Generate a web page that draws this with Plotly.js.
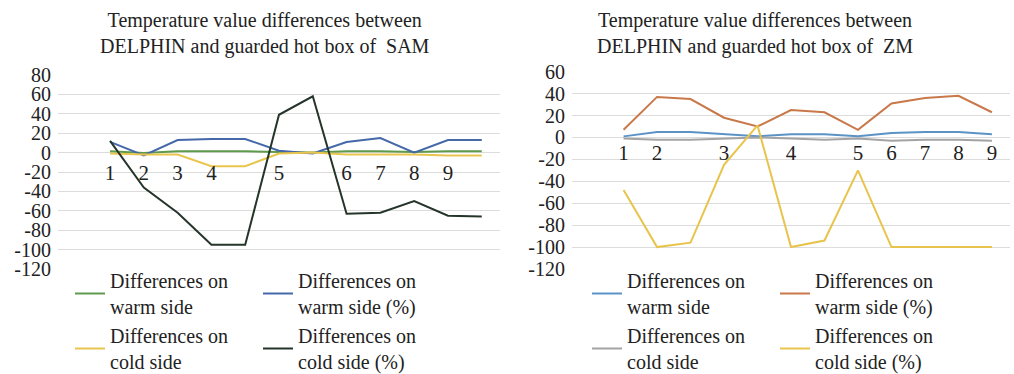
<!DOCTYPE html>
<html>
<head>
<meta charset="utf-8">
<script src="https://cdn.plot.ly/plotly-3.0.1.min.js"></script>
<style>html,body{margin:0;padding:0;background:#fff;}#chart{width:1014px;height:374px;}</style>
</head>
<body>
<div id="chart"></div>
<script>
// ---- Data: SAM (left panel) ----
var samCategories = ['1','2','3','4','','5','','6','7','8','9',''];
var samWarm       = [1.5, -0.5, 1.5, 1.5, 1.5, 0.5, 0, 1.5, 1.5, 0.5, 1.5, 1.5];
var samWarmPct    = [11, -3, 13, 14, 14, 2, -1, 11, 15, 0, 13, 13];
var samCold       = [-1, -2, -2, -14, -14, -1, 0, -2, -2, -2, -3, -3];
var samColdPct    = [12, -36, -62, -95, -95, 39, 58, -63, -62, -50, -65, -66];
var samYTicks     = [80, 60, 40, 20, 0, -20, -40, -60, -80, -100, -120];

// ---- Data: ZM (right panel) ----
var zmCategories  = ['1','2','','3','','4','','5','6','7','8','9'];
var zmWarm        = [1, 5, 5, 3, 1, 3, 3, 1, 4, 5, 5, 3];
var zmWarmPct     = [7, 37, 35, 18, 10, 25, 23, 7, 31, 36, 38, 23];
var zmCold        = [-1, -2, -2, -1, 0, -1, -2, -1, -3, -2, -2, -3];
var zmColdPct     = [-48, -100, -96, -25, 11, -100, -94, -30, -100, -100, -100, -100];
var zmYTicks      = [60, 40, 20, 0, -20, -40, -60, -80, -100, -120];

var seriesNames = ['Differences on<br>warm side', 'Differences on<br>warm side (%)',
                   'Differences on<br>cold side', 'Differences on<br>cold side (%)'];
var panelTitles = ['Temperature value differences between<br>DELPHIN and guarded hot box of  SAM',
                   'Temperature value differences between<br>DELPHIN and guarded hot box of  ZM'];

var FONT = 'Liberation Serif, Times New Roman, serif';
var W = 1014, H = 374;

function idx(a){ return a.map(function(_, i){ return i; }); }
function tv(cats){ var v=[]; cats.forEach(function(c,i){ if(c!=='') v.push(i); }); return v; }
function tt(cats){ return cats.filter(function(c){ return c!==''; }); }

var samX = idx(samCategories), zmX = idx(zmCategories);

function tr(x, y, name, color, xa, ya, lg){
  return {x:x, y:y, name:name, type:'scatter', mode:'lines', xaxis:xa, yaxis:ya,
          legend:lg, line:{color:color, width:2}, hoverinfo:'skip'};
}

var data = [
  tr(samX, samWarm,    seriesNames[0], '#5e9a4c', 'x',  'y',  'legend'),
  tr(samX, samWarmPct, seriesNames[1], '#4468a8', 'x',  'y',  'legend'),
  tr(samX, samCold,    seriesNames[2], '#e9c54e', 'x',  'y',  'legend2'),
  tr(samX, samColdPct, seriesNames[3], '#25352a', 'x',  'y',  'legend2'),
  tr(zmX,  zmWarm,     seriesNames[0], '#5b93c6', 'x2', 'y2', 'legend3'),
  tr(zmX,  zmWarmPct,  seriesNames[1], '#c9784a', 'x2', 'y2', 'legend3'),
  tr(zmX,  zmCold,     seriesNames[2], '#a3a3a3', 'x2', 'y2', 'legend4'),
  tr(zmX,  zmColdPct,  seriesNames[3], '#e8c44c', 'x2', 'y2', 'legend4')
];

var yDom1 = [1-269/H, 1-75/H], yR1 = [-120, 80];
var yDom2 = [1-269/H, 1-71.7/H], yR2 = [-120, 60];
function zeroPos(dom, r){ return dom[0] + (0 - r[0])/(r[1]-r[0])*(dom[1]-dom[0]); }

function xax(dom, cats, pos, standoff){
  return {domain:dom, range:[-1.54, 11.54], anchor:'free', position:pos,
    showgrid:false, zeroline:false, showline:false,
    tickmode:'array', tickvals:tv(cats), ticktext:tt(cats),
    ticks:'', ticklabelstandoff:standoff,
    tickfont:{family:FONT, size:21, color:'#222'}, fixedrange:true};
}
function yax(dom, r, anchor, ticks){
  return {domain:dom, range:r, anchor:anchor, tickmode:'array',
    tickvals:ticks, ticktext:ticks.map(function(v){ return String(v); }),
    showgrid:true, gridcolor:'#dcdcdc', gridwidth:1, zeroline:false, showline:false,
    ticks:'outside', ticklen:2, tickcolor:'rgba(0,0,0,0)',
    tickfont:{family:FONT, size:20, color:'#222'}, fixedrange:true};
}
function leg(x, y){
  return {orientation:'h', x:x, y:y, xanchor:'left', yanchor:'top',
    entrywidth:143, entrywidthmode:'pixels', bgcolor:'rgba(0,0,0,0)',
    font:{family:FONT, size:20, color:'#222'}, itemclick:false, itemdoubleclick:false};
}

var layout = {
  width:W, height:H, margin:{l:0, r:0, t:0, b:0, autoexpand:false},
  paper_bgcolor:'#ffffff', plot_bgcolor:'#ffffff',
  xaxis:  xax([58/W, 500/W],  samCategories, zeroPos(yDom1, yR1), 5),
  yaxis:  yax(yDom1, yR1, 'x', samYTicks),
  xaxis2: xax([572/W, 1010/W], zmCategories, zeroPos(yDom2, yR2), 1),
  yaxis2: yax(yDom2, yR2, 'x2', zmYTicks),
  legend:  leg(70/W,  1-261/H),
  legend2: leg(70/W,  1-316/H),
  legend3: leg(587/W, 1-261/H),
  legend4: leg(587/W, 1-316/H),
  annotations:[
    {text:panelTitles[0], xref:'paper', yref:'paper', x:265/W, y:1-33/H, xanchor:'center', yanchor:'middle',
     showarrow:false, font:{family:FONT, size:20, color:'#222'}},
    {text:panelTitles[1], xref:'paper', yref:'paper', x:755/W, y:1-33/H, xanchor:'center', yanchor:'middle',
     showarrow:false, font:{family:FONT, size:20, color:'#222'}}
  ]
};

Plotly.newPlot('chart', data, layout, {displayModeBar:false, staticPlot:true});
</script>
</body>
</html>
